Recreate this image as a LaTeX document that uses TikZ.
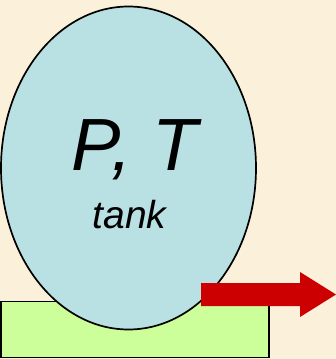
\documentclass[tikz,border=0pt]{standalone}
\usepackage{fontspec}
\setmainfont{Liberation Sans}
\usetikzlibrary{shapes.geometric}
\definecolor{parch}{RGB}{251,240,217}
\definecolor{tankblue}{RGB}{185,224,227}
\definecolor{basegreen}{RGB}{204,255,153}
\definecolor{flowred}{RGB}{204,0,0}
\tikzset{
  tankshape/.style={ellipse, draw=black, line width=1.7pt, fill=tankblue, inner sep=0pt, minimum width=255pt, minimum height=323pt},
  basebox/.style={rectangle, draw=black, line width=1.8pt, fill=basegreen, inner sep=0pt, minimum width=268pt, minimum height=56pt},
  lbl/.style={inner sep=0pt, font=\itshape}
}
\begin{document}
\begin{tikzpicture}[x=1pt,y=-1pt]
\fill[parch] (0,0) rectangle (336,359);
\useasboundingbox (0,0) rectangle (336,359);
\node[basebox] (base) at (135,329.5) {};
\node[tankshape] (tank) at (128.5,168) {};
\fill[flowred] (201,283) -- (300,283) -- (300,272) -- (336,294.5) -- (300,317) -- (300,306) -- (201,306) -- cycle;
\node[lbl, font=\itshape\fontsize{74}{74}\selectfont, anchor=base] (pt) at (135,170) {P, T};
\node[lbl, font=\itshape\fontsize{39}{39}\selectfont, anchor=base] (tk) at (129.5,228) {tank};
\end{tikzpicture}
\end{document}
